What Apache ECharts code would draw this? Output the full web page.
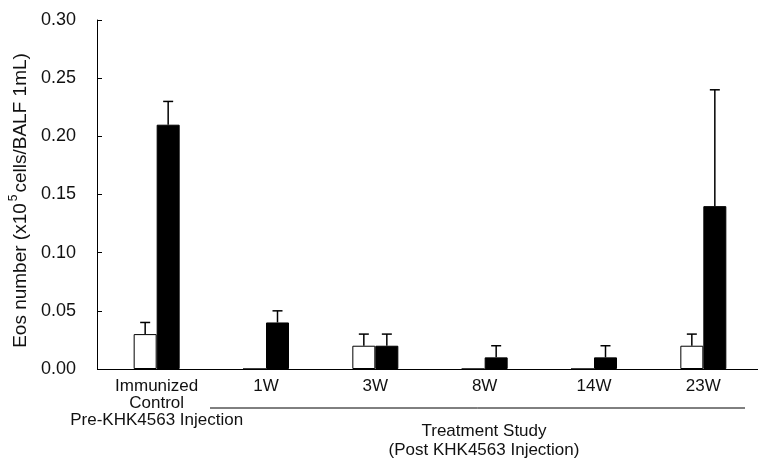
<!DOCTYPE html>
<html>
<head>
<meta charset="utf-8">
<title>Eos number</title>
<script src="https://cdn.jsdelivr.net/npm/echarts@6/dist/echarts.min.js"></script>
<style>
  html, body { margin: 0; padding: 0; background: #fff; }
  #main { width: 758px; height: 462px; }
</style>
</head>
<body>
<div id="main"></div>
<script>
// categories (tick labels)
var categories = ['Immunized\nControl\nPre-KHK4563 Injection', '1W', '3W', '8W', '14W', '23W'];
// white bars (mean and upper error)
var whiteMean = [0.03, 0, 0.02, 0, 0, 0.02];
var whiteErr  = [0.01, 0, 0.01, 0, 0, 0.01];
// black bars (mean and upper error)
var blackMean = [0.21, 0.04, 0.02, 0.01, 0.01, 0.14];
var blackErr  = [0.02, 0.01, 0.01, 0.01, 0.01, 0.10];
var yTicks = [0, 0.05, 0.10, 0.15, 0.20, 0.25, 0.30];

var font = 'Liberation Sans, Arial, sans-serif';
var barW = 23;

function errData(mean, err) {
  return mean.map(function (m, i) { return [i, m, err[i]]; });
}

// draws an upper error bar shifted by dx from the category centre
function errRender(dx) {
  return function (params, api) {
    var e = api.value(2);
    if (!e) return;
    var m = api.value(1);
    var p0 = api.coord([api.value(0), m]);
    var p1 = api.coord([api.value(0), m + e]);
    var x = p0[0] + dx;
    var st = { stroke: '#000', lineWidth: 1.5 };
    return {
      type: 'group',
      children: [
        { type: 'line', shape: { x1: x, y1: p0[1], x2: x, y2: p1[1] }, style: st },
        { type: 'line', shape: { x1: x - 5, y1: p1[1], x2: x + 5, y2: p1[1] }, style: st }
      ]
    };
  };
}

var chart = echarts.init(document.getElementById('main'));
var option = {
  animation: false,
  backgroundColor: '#fff',
  grid: { left: 97, right: -3, top: 20, bottom: 93 },
  xAxis: {
    type: 'category',
    data: categories,
    axisLine: { lineStyle: { color: '#000', width: 1 } },
    axisTick: { inside: true, length: 4, interval: 0, lineStyle: { color: '#000' } },
    axisLabel: {
      interval: 0, margin: 9, color: '#111', fontFamily: font, fontSize: 17, lineHeight: 17
    }
  },
  yAxis: {
    type: 'value',
    min: 0, max: 0.3, interval: 0.05,
    offset: 5,
    name: 'Eos number (x10{sup|5}cells/BALF 1mL)',
    nameLocation: 'middle',
    nameGap: 64,
    nameTextStyle: {
      color: '#111', fontFamily: font, fontSize: 19, padding: [0, 12, 0, 0],
      rich: { sup: { fontSize: 12, fontFamily: font, color: '#111', padding: [0, 2, 13, 2] } }
    },
    axisLine: { show: true, lineStyle: { color: '#000', width: 1 } },
    axisTick: { show: true, inside: true, length: 5, lineStyle: { color: '#000' } },
    splitLine: { show: false },
    axisLabel: {
      margin: 21, color: '#111', fontFamily: font, fontSize: 18,
      formatter: function (v) { return v.toFixed(2); }
    }
  },
  graphic: [
    { type: 'line', shape: { x1: 210, y1: 408, x2: 745, y2: 408 }, style: { stroke: '#000', lineWidth: 1 } },
    {
      type: 'text', x: 484, y: 422,
      style: {
        text: 'Treatment Study\n(Post KHK4563 Injection)',
        font: '17px ' + font, fill: '#111', textAlign: 'center', textVerticalAlign: 'top', lineHeight: 19
      }
    }
  ],
  series: [
    {
      type: 'bar', name: 'white', data: whiteMean, barWidth: barW, barGap: '0%',
      itemStyle: { color: '#fff', borderColor: '#000', borderWidth: 1 }
    },
    {
      type: 'bar', name: 'black', data: blackMean, barWidth: barW, barGap: '0%',
      itemStyle: { color: '#000', borderColor: '#000', borderWidth: 1 }
    },
    { type: 'custom', data: errData(whiteMean, whiteErr), renderItem: errRender(-barW / 2), z: 5 },
    { type: 'custom', data: errData(blackMean, blackErr), renderItem: errRender(barW / 2), z: 5 }
  ]
};
chart.setOption(option);
</script>
</body>
</html>
